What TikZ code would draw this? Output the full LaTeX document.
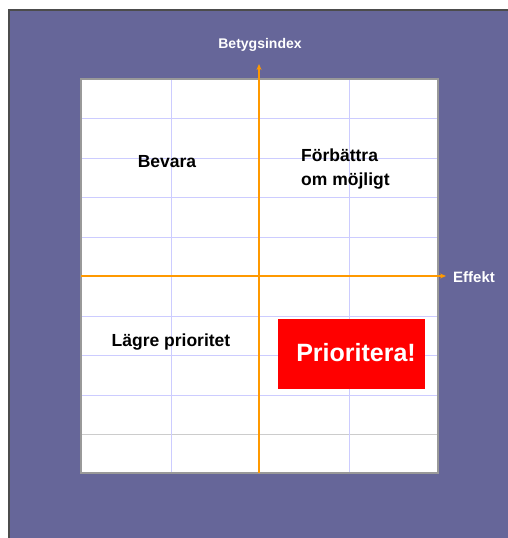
\documentclass[tikz,border=0pt]{standalone}
\usepackage{fontspec}
\setmainfont{Liberation Sans}
\usetikzlibrary{arrows.meta}
\definecolor{bgpurple}{HTML}{666699}
\definecolor{gridlav}{HTML}{CCCCFF}
\definecolor{axisorange}{HTML}{FF9900}
\begin{document}
\begin{tikzpicture}[x=1pt,y=-1pt,
  gridline/.style={draw=gridlav,line width=1pt},
  axisline/.style={draw=axisorange,line width=2pt,-{Stealth[length=6pt,width=5pt]}},
  quadlabel/.style={font=\fontsize{17.5}{24}\selectfont\bfseries,text=black,align=left,inner sep=0pt},
  axislabel/.style={font=\fontsize{14}{16}\selectfont\bfseries,text=white,inner sep=0pt}]
\useasboundingbox (0,0) rectangle (508,538);
\fill[white] (0,0) rectangle (508,538);
\fill[bgpurple] (9,10) rectangle (508,538);
\draw[black!70,line width=1.5pt] (9,538) -- (9,10) -- (508,10);
\fill[white] (81,79) rectangle (438,473);
\foreach \y in {118,158,197,237,316,355,395} \draw[gridline] (81,\y) -- (438,\y);
\draw[draw=black!20,line width=1pt] (81,434) -- (438,434);
\foreach \x in {171,349} \draw[gridline] (\x,79) -- (\x,473);
\draw[draw=black!40,line width=1.2pt] (81,79) rectangle (438,473);
\coordinate (ybot) at (259,473);
\coordinate (ytop) at (259,64);
\coordinate (xleft) at (81,276);
\coordinate (xright) at (446,276);
\draw[axisline] (ybot) -- (ytop);
\draw[axisline] (xleft) -- (xright);
\node[axislabel] (ylab) at (260,45) {Betygsindex};
\node[axislabel,anchor=west,font=\fontsize{15}{17}\selectfont\bfseries] (xlab) at (453,277) {Effekt};
\node[quadlabel] (bevara) at (167,162) {Bevara};
\node[quadlabel,anchor=west] (forb) at (301,169) {Förbättra\\om möjligt};
\node[quadlabel] (lagre) at (171,342) {Lägre prioritet};
\node[fill=red,minimum width=147pt,minimum height=70pt,inner sep=0pt] (prio) at (351.5,354) {};
\node[text=white,font=\fontsize{25}{28}\selectfont\bfseries,inner sep=0pt] (priotext) at (356,353) {Prioritera!};
\end{tikzpicture}
\end{document}
